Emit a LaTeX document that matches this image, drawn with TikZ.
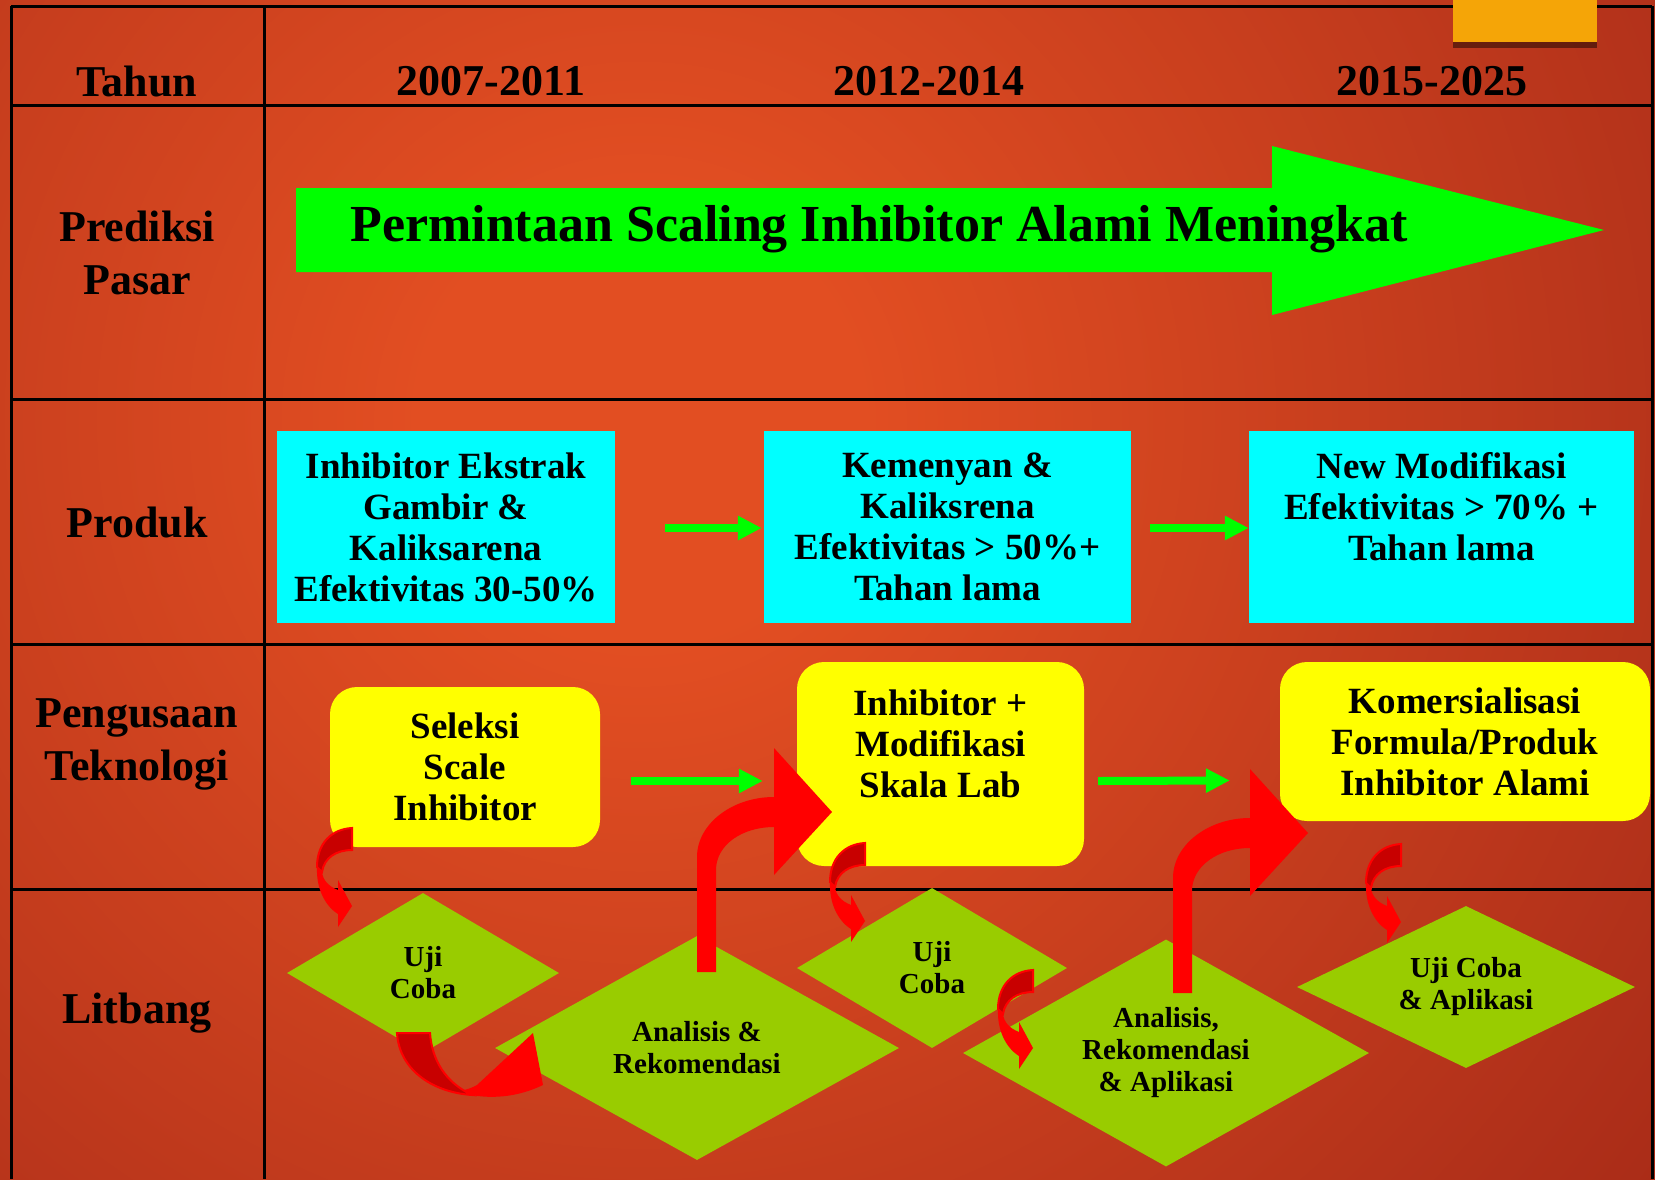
\documentclass[tikz,border=0pt]{standalone}
\usepackage{fontspec}
\setmainfont{Liberation Serif}
\usepackage{tikz}
\usetikzlibrary{arrows.meta, positioning, shapes.geometric, shadows}
\definecolor{bgin}{HTML}{E24E22}
\definecolor{bgmid}{HTML}{B0301A}
\definecolor{bgout}{HTML}{861406}
\definecolor{arrgreen}{HTML}{00FF00}
\definecolor{prodcyan}{HTML}{00FFFF}
\definecolor{techyellow}{HTML}{FFFF00}
\definecolor{rdgreen}{HTML}{99CC00}
\definecolor{redarr}{HTML}{FF0000}
\definecolor{redback}{HTML}{C80000}
\definecolor{tabgold}{HTML}{F5A507}
\pgfdeclareradialshading{bgglow}{\pgfpoint{0bp}{0bp}}{color(0bp)=(bgin); color(5bp)=(bgin); color(26bp)=(bgmid); color(46bp)=(bgout); color(50bp)=(bgout)}

\begin{document}
\begin{tikzpicture}[
  x=1pt, y=-1pt, font=\bfseries,
  grid/.style={line width=3pt, draw=black},
  rowlbl/.style={font=\fontsize{44}{53}\selectfont\bfseries, align=center},
  demand/.style={font=\fontsize{52}{60}\selectfont\bfseries},
  prodbox/.style={fill=prodcyan, inner sep=0pt, align=center,
                  font=\fontsize{37}{41}\selectfont\bfseries},
  techbox/.style={fill=techyellow, rounded corners=27pt, inner sep=0pt, align=center,
                  font=\fontsize{37}{41}\selectfont\bfseries},
  rdbox/.style={diamond, shape aspect=1.7, fill=rdgreen, inner sep=0pt, align=center,
                font=\fontsize{29}{32}\selectfont\bfseries},
  garr/.style={line width=8pt, draw=arrgreen, -{Triangle[length=24pt, width=23pt]}},
  tabbox/.style={fill=tabgold, minimum width=144pt, minimum height=42pt, inner sep=0pt,
                 drop shadow={shadow xshift=0pt, shadow yshift=-6pt, opacity=.45, fill=black}},
  curlarr/.pic={
    \fill[redarr] (-35,39) .. controls (-36,60) and (-27,78) .. (-14,86) -- (-14,99) -- (0,78)
      -- (-14,52) -- (-14,62) .. controls (-24,58) and (-29,52) .. (-30,44) -- cycle;
    \filldraw[fill=redback, draw=redarr, line width=2pt] (0,0) .. controls (-20,1) and (-35,15) .. (-35,39)
      -- (-30,44) .. controls (-28,30) and (-16,22) .. (0,22) -- cycle;
  },
  bentarr/.pic={
    \fill[redarr] (0,0) -- (0,-115) .. controls (0,-148) and (35,-175) .. (77,-175) -- (77,-224)
      -- (135,-160) -- (77,-97) -- (77,-145) .. controls (45,-145) and (19,-127) .. (19,-102)
      -- (19,0) -- cycle;
  }
]
\useasboundingbox (0,0) rectangle (1655,1179);

% background
\begin{scope}
  \clip (0,0) rectangle (1655,1179);
  \fill[bgout] (0,0) rectangle (1655,1179);
  \shade[shading=bgglow] (-460,-680) rectangle (1740,1520);
\end{scope}

% table lines
\draw[grid] (11,6) -- (1652,6) (11,105) -- (1652,105) (11,399) -- (1652,399)
  (11,644) -- (1652,644) (11,889) -- (1652,889);
\draw[grid] (11,6) -- (11,1179) (264,6) -- (264,1179) (1652,6) -- (1652,1179);

% row labels
\node[rowlbl] (tahun)     at (137,81)   {Tahun};
\node[rowlbl] (pasar)     at (137,253)  {Prediksi\\Pasar};
\node[rowlbl] (produk)    at (137,522)  {Produk};
\node[rowlbl] (teknologi) at (137,744)  {Pengusaan\\Teknologi};
\node[rowlbl] (litbang)   at (137,1013) {Litbang};

% years
\node[rowlbl] (y1) at (491,81)  {2007-2011};
\node[rowlbl] (y2) at (929,81)  {2012-2014};
\node[rowlbl] (y3) at (1432,81) {2015-2025};

% market
\fill[arrgreen] (296,188) -- (1272,188) -- (1272,146) -- (1604,230) -- (1272,315)
  -- (1272,272) -- (296,272) -- cycle;
\node[demand] (demand) at (879,229) {Permintaan Scaling Inhibitor Alami Meningkat};

% products
\node[prodbox, minimum width=338pt, minimum height=192pt] (prod1) at (446,527)
  {Inhibitor Ekstrak\\Gambir \&\\Kaliksarena\\Efektivitas 30-50\%};
\node[prodbox, minimum width=367pt, minimum height=192pt] (prod2) at (947.5,527)
  {Kemenyan \&\\Kaliksrena\\Efektivitas > 50\%+\\Tahan lama};
\node[prodbox, minimum width=385pt, minimum height=192pt] (prod3) at (1441.5,527)
  {New Modifikasi\\Efektivitas > 70\% +\\Tahan lama\\~};

% technology
\node[techbox, minimum width=270pt, minimum height=160pt] (tech1) at (465,767)
  {Seleksi\\Scale\\Inhibitor};
\node[techbox, minimum width=287pt, minimum height=204pt] (tech2) at (940.5,764)
  {Inhibitor +\\Modifikasi\\Skala Lab\\~};
\node[techbox, minimum width=370pt, minimum height=159pt] (tech3) at (1465,741.5)
  {Komersialisasi\\Formula/Produk\\Inhibitor Alami};

% research
\node[rdbox, minimum width=272pt, minimum height=160pt] (uji1) at (423,973) {Uji\\Coba};
\node[rdbox, minimum width=404pt, minimum height=224pt] (analisis1) at (697,1048)
  {Analisis \&\\Rekomendasi};
\node[rdbox, minimum width=270pt, minimum height=160pt] (uji2) at (932,968) {Uji\\Coba};
\node[rdbox, minimum width=406pt, minimum height=227pt] (analisis2) at (1166,1053)
  {Analisis,\\Rekomendasi\\\& Aplikasi};
\node[rdbox, minimum width=338pt, minimum height=162pt] (uji3) at (1466,987)
  {Uji Coba\\\& Aplikasi};

% green arrows
\draw[garr] ([shift={(50,1)}]prod1.east) -- ([shift={(-2,1)}]prod2.west);
\draw[garr] ([shift={(19,1)}]prod2.east) -- ([shift={(0,1)}]prod3.west);
\draw[garr] ([shift={(31,14)}]tech1.east) -- ([shift={(-34,17)}]tech2.west);
\draw[garr] ([shift={(14,17)}]tech2.east) -- ([shift={(-50,39)}]tech3.west);

% red arrows
\pic (up1) at (697,972) {bentarr};
\pic (up2) at (1173,993) {bentarr};
\pic (curl1) at (352,828) {curlarr};
\pic (curl2) at (865,843) {curlarr};
\pic (curl3) at (1033,970) {curlarr};
\pic (curl4) at (1401,844) {curlarr};
\fill[redarr] (455,1091) .. controls (490,1102) and (520,1096) .. (543,1085) -- (533,1033)
  -- (477,1085) .. controls (470,1089) and (462,1091) .. (455,1091) -- cycle;
\filldraw[fill=redback, draw=redarr, line width=2pt] (397,1033) -- (430,1033)
  .. controls (432,1060) and (445,1082) .. (472,1095)
  .. controls (430,1092) and (399,1068) .. (397,1033) -- cycle;

% corner tab
\node[tabbox] (tab) at (1525,21) {};
\end{tikzpicture}
\end{document}
